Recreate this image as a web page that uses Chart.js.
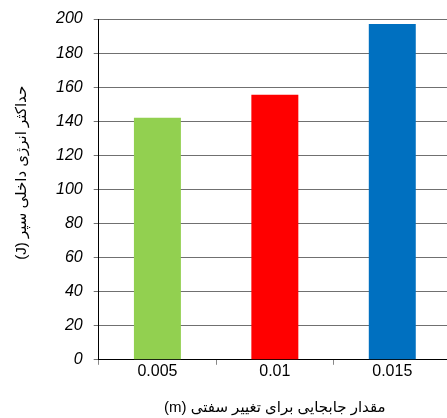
<!DOCTYPE html>
<html>
<head>
<meta charset="utf-8">
<script src="https://cdn.jsdelivr.net/npm/chart.js@4"></script>
<style>
    html, body { margin: 0; padding: 0; background: #fff; overflow: hidden; }
    #wrap { width: 451px; height: 418px; position: relative; }
</style>
</head>
<body>
<div id="wrap"><canvas id="chart"></canvas></div>
<script>
// Data
const categories = ["0.005", "0.01", "0.015"];
const energyValues = [142, 155.5, 197];
const barColors = ["#92D050", "#FF0000", "#0070C0"];
const yTicks = [0, 20, 40, 60, 80, 100, 120, 140, 160, 180, 200];
const xTitle = "مقدار جابجایی برای تغییر سفتی (m)";
const yTitle = "حداکثر انرژی داخلی سپر (J)";

const fontFamily = "'Liberation Sans', Arial, 'DejaVu Sans', sans-serif";

// wrap persian titles in a right-to-left embedding so the "(m)" / "(J)" end up on the left
const rtl = s => "\u202B" + s + "\u202C";
// y title sits a bit above the middle of the axis in the original
const yPad = "\u00A0".repeat(8);

const ctx = document.querySelector("#chart").getContext("2d");
new Chart(ctx, {
    type: "bar",
    data: {
        labels: categories,
        datasets: [{
            data: energyValues,
            backgroundColor: barColors,
            borderWidth: 0,
            categoryPercentage: 1,
            barPercentage: 0.4
        }]
    },
    options: {
        responsive: true,
        maintainAspectRatio: false,
        animation: false,
        events: [],
        layout: { padding: { top: 0, left: 13, right: 0, bottom: 1 } },
        plugins: {
            legend: { display: false },
            tooltip: { enabled: false }
        },
        scales: {
            x: {
                grid: {
                    drawOnChartArea: false,
                    offset: true,
                    tickLength: 5,
                    color: "#888"
                },
                border: { color: "#000", width: 1 },
                ticks: {
                    color: "#000",
                    font: { family: fontFamily, size: 16 },
                    padding: -3
                },
                title: {
                    display: true,
                    text: rtl(xTitle),
                    color: "#000",
                    font: { family: fontFamily, size: 15 },
                    padding: { top: 21, bottom: 0 }
                }
            },
            y: {
                min: 0,
                max: 200,
                afterBuildTicks: axis => {
                    axis.ticks = yTicks.map(v => ({ value: v }));
                },
                grid: {
                    color: "#707070",
                    lineWidth: 1,
                    tickLength: 5
                },
                border: { color: "#000", width: 1 },
                ticks: {
                    color: "#000",
                    font: { family: fontFamily, size: 16, style: "italic", lineHeight: 1 },
                    padding: 11
                },
                title: {
                    display: true,
                    text: rtl(yTitle + yPad),
                    color: "#000",
                    font: { family: fontFamily, size: 15 },
                    padding: { top: 0, bottom: 14 }
                }
            }
        }
    }
});
</script>
</body>
</html>
